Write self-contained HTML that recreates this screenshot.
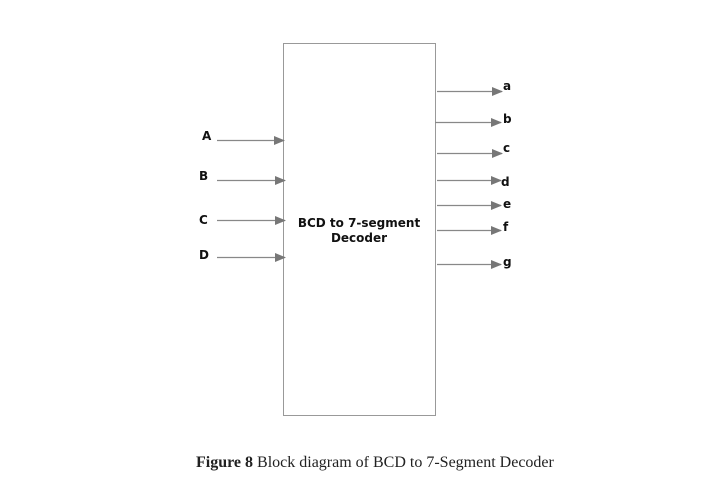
<!DOCTYPE html>
<html><head><style>
body{margin:0;background:#fff;width:710px;height:494px;overflow:hidden}
svg{position:absolute;left:0;top:0}
.l{font-family:"DejaVu Sans",sans-serif;font-size:12px;fill:#111}
.cap{position:absolute;left:196px;top:454px;font-family:"Liberation Serif",serif;font-size:16px;color:#222;white-space:nowrap}
</style></head><body>
<svg width="710" height="494">
<defs><marker id="ar" markerWidth="11" markerHeight="9" refX="10" refY="4.5" orient="auto" markerUnits="userSpaceOnUse"><path d="M0,0L11,4.5L0,9z" fill="#777"/></marker></defs>
<rect x="283.5" y="43.5" width="152" height="372" fill="#fff" stroke="#999" stroke-width="1"/>
<g stroke="#888" stroke-width="1.2" marker-end="url(#ar)">
<line x1="217" y1="140.5" x2="284" y2="140.5"/>
<line x1="217" y1="180.5" x2="285" y2="180.5"/>
<line x1="217" y1="220.5" x2="285" y2="220.5"/>
<line x1="217" y1="257.5" x2="285" y2="257.5"/>
<line x1="437" y1="91.5" x2="502" y2="91.5"/>
<line x1="435" y1="122.5" x2="501" y2="122.5"/>
<line x1="437" y1="153.5" x2="502" y2="153.5"/>
<line x1="437" y1="180.5" x2="501" y2="180.5"/>
<line x1="437" y1="205.5" x2="501" y2="205.5"/>
<line x1="437" y1="230.5" x2="501" y2="230.5"/>
<line x1="437" y1="264.5" x2="501" y2="264.5"/>
</g>
<g class="l">
<text x="202" y="140" font-weight="bold">A</text>
<text x="199" y="180" font-weight="bold">B</text>
<text x="199" y="224" font-weight="bold">C</text>
<text x="199" y="259" font-weight="bold">D</text>
<text x="503" y="90" font-weight="bold">a</text>
<text x="503" y="123" font-weight="bold">b</text>
<text x="503" y="152" font-weight="bold">c</text>
<text x="501" y="186" font-weight="bold">d</text>
<text x="503" y="208" font-weight="bold">e</text>
<text x="503" y="231" font-weight="bold">f</text>
<text x="503" y="266" font-weight="bold">g</text>
<text x="359" y="227" text-anchor="middle" font-weight="bold">BCD to 7-segment</text>
<text x="359" y="242" text-anchor="middle" font-weight="bold">Decoder</text>
</g>
</svg>
<div class="cap"><b>Figure 8</b> Block diagram of BCD to 7-Segment Decoder</div>
</body></html>
